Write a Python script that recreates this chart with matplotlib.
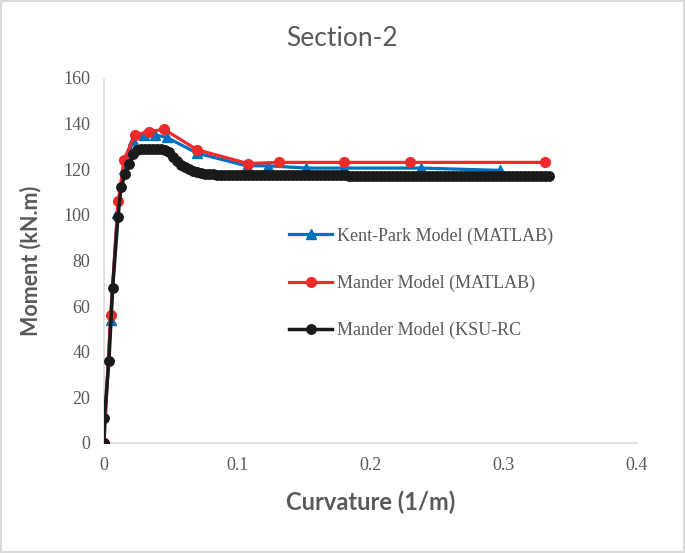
"""Moment-curvature comparison, Section-2."""
import matplotlib
matplotlib.use('Agg')
import matplotlib.pyplot as plt
from matplotlib.patches import Rectangle

GREY = '#595959'
AXIS = '#d9d9d9'
SERIF = 'Liberation Serif'

plt.rcParams['font.family'] = [SERIF, 'DejaVu Serif']

# Kent-Park Model (MATLAB)
kp_x = [0, 0.005, 0.010, 0.015, 0.022, 0.030, 0.038, 0.047, 0.070, 0.107,
        0.123, 0.152, 0.180, 0.238, 0.297]
kp_y = [0, 54, 101, 120, 133, 135, 135, 134, 127, 121.5,
        121.5, 120.5, 120.5, 120.5, 119.5]

# Mander Model (MATLAB)
md_x = [0, 0.005, 0.0107, 0.015, 0.023, 0.034, 0.045, 0.070, 0.108, 0.131,
        0.180, 0.230, 0.331]
md_y = [0, 56, 106, 124, 135, 136.5, 137.5, 128.5, 122.5, 123,
        123, 123, 123]

# Mander Model (KSU-RC)
ksu_x = [0, 0.0003, 0.0037, 0.0065, 0.0105, 0.0128, 0.016, 0.019, 0.022, 0.025,
         0.028, 0.031, 0.034, 0.037, 0.040, 0.043, 0.046, 0.049, 0.052, 0.055,
         0.058, 0.061, 0.064, 0.067, 0.070, 0.073, 0.076, 0.079, 0.082, 0.085,
         0.088, 0.091,
         0.094, 0.097, 0.100, 0.103, 0.106, 0.109, 0.112, 0.115, 0.118, 0.121,
         0.124, 0.127, 0.130, 0.133, 0.136, 0.139, 0.142, 0.145, 0.148, 0.151,
         0.154, 0.157, 0.160, 0.163, 0.166, 0.169, 0.172, 0.175, 0.178, 0.181,
         0.184, 0.187, 0.190, 0.193, 0.196, 0.199, 0.202, 0.205, 0.208, 0.211,
         0.214, 0.217, 0.220, 0.223, 0.226, 0.229, 0.232, 0.235, 0.238, 0.241,
         0.244, 0.247, 0.250, 0.253, 0.256, 0.259, 0.262, 0.265, 0.268, 0.271,
         0.274, 0.277, 0.280, 0.283, 0.286, 0.289, 0.292, 0.295, 0.298, 0.301,
         0.304, 0.307, 0.310, 0.313, 0.316, 0.319, 0.322, 0.325, 0.328, 0.331,
         0.334]
ksu_y = [0, 11, 36, 68, 99, 112, 118, 122.5, 126.5, 128.5,
         129, 129, 129, 129, 129, 129, 128.5, 127.5, 125.5, 123.5,
         122, 120.8, 120, 119.3, 118.8, 118.4, 118.1, 117.9, 117.7, 117.6,
         117.5, 117.5,
         117.4, 117.4, 117.4, 117.4, 117.4, 117.4, 117.4, 117.4, 117.4, 117.4,
         117.3, 117.3, 117.3, 117.3, 117.3, 117.3, 117.3, 117.3, 117.3, 117.3,
         117.3, 117.3, 117.3, 117.3, 117.3, 117.3, 117.3, 117.3, 117.3, 117.3,
         117.2, 117.2, 117.2, 117.2, 117.2, 117.2, 117.2, 117.2, 117.2, 117.2,
         117.2, 117.2, 117.2, 117.2, 117.2, 117.2, 117.2, 117.2, 117.2, 117.2,
         117.1, 117.1, 117.1, 117.1, 117.1, 117.1, 117.1, 117.1, 117.1, 117.1,
         117.1, 117.1, 117.1, 117.1, 117.1, 117.1, 117.1, 117.1, 117.1, 117.1,
         117.1, 117.1, 117.1, 117.1, 117.1, 117.1, 117.1, 117.1, 117.1, 117.1,
         117.1]

x_ticks = [0, 0.1, 0.2, 0.3, 0.4]
x_tick_labels = ['0', '0.1', '0.2', '0.3', '0.4']
y_ticks = [0, 20, 40, 60, 80, 100, 120, 140, 160]
y_tick_labels = [str(v) for v in y_ticks]

fig = plt.figure(figsize=(6.85, 5.53), dpi=100)
ax = fig.add_axes([0.1518, 0.199, 0.778, 0.660])

ax.plot(kp_x, kp_y, color='#0070c0', lw=2.3, marker='^', ms=7,
        label='Kent-Park Model (MATLAB)', zorder=3)
ax.plot(md_x, md_y, color='#ee2a2a', lw=2.3, marker='o', ms=7,
        label='Mander Model (MATLAB)', zorder=4)
ax.plot(ksu_x, ksu_y, color='#1a1a1a', lw=2.5, marker='o', ms=6.8,
        label='Mander Model (KSU-RC', zorder=5)

ax.set_xlim(0, 0.4)
ax.set_ylim(0, 160)
ax.set_xticks(x_ticks)
ax.set_xticklabels(x_tick_labels, fontfamily=SERIF, fontsize=13, color=GREY)
ax.set_yticks(y_ticks)
ax.set_yticklabels(y_tick_labels, fontfamily=SERIF, fontsize=13, color=GREY)
ax.tick_params(length=0, pad=10)

for s in ['top', 'right']:
    ax.spines[s].set_visible(False)
for s in ['left', 'bottom']:
    ax.spines[s].set_color(AXIS)
    ax.spines[s].set_linewidth(1.2)

ax.set_xlabel('Curvature (1/m)', fontsize=17, fontweight='bold', color=GREY,
              family='Lato', labelpad=12)
ax.set_ylabel('Moment (kN.m)', fontsize=15.5, fontweight='bold', color=GREY,
              family='Lato', labelpad=16)
fig.text(0.5, 0.931, 'Section-2', ha='center', va='center', fontsize=19,
         color=GREY, family='Lato')

ax.legend(loc='upper left', bbox_to_anchor=(0.33, 0.615), frameon=False,
          prop={'family': SERIF, 'size': 13}, labelcolor=GREY,
          labelspacing=1.65, handlelength=2.4, handletextpad=0.25,
          borderpad=0, numpoints=1)

fig.patches.append(Rectangle((0.002, 0.002), 0.996, 0.996, transform=fig.transFigure,
                             fill=False, edgecolor=AXIS, lw=1.5))

fig.savefig('out.png', dpi=100, facecolor='white')
